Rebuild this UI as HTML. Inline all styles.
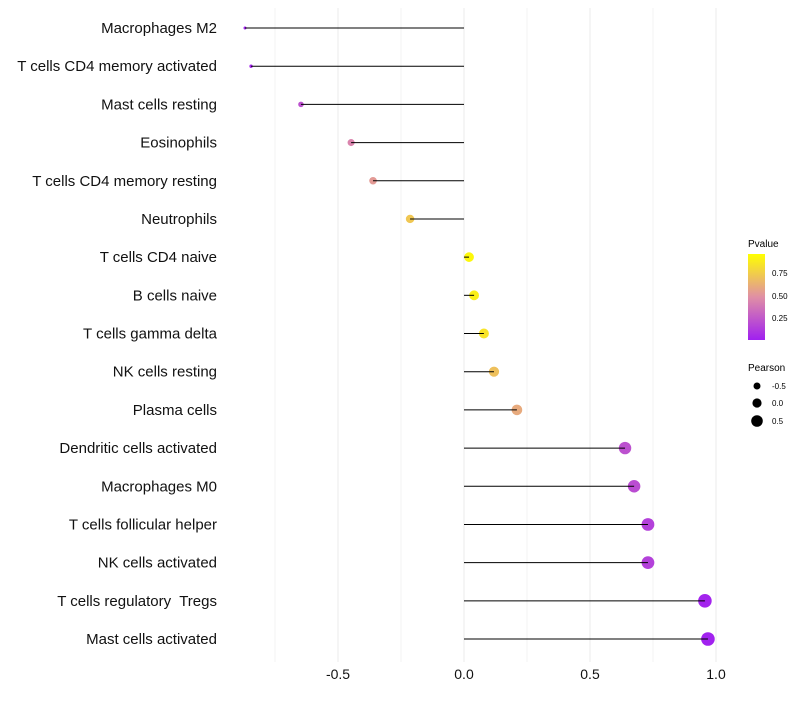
<!DOCTYPE html>
<html><head><meta charset="utf-8"><style>
body{margin:0;background:#fff;}
svg text{font-family:"Liberation Sans",sans-serif;white-space:pre;}
</style></head><body>
<svg id="chart" width="800" height="700" xmlns="http://www.w3.org/2000/svg">
<defs><linearGradient id="pg" x1="0" y1="1" x2="0" y2="0">
<stop offset="0" stop-color="#a020f0"/><stop offset="0.5" stop-color="#e08fa5"/><stop offset="1" stop-color="#ffff00"/>
</linearGradient></defs>
<g id="grid"></g><g id="points"></g><g id="stems"></g><g id="labels"></g>
<g>
<text x="748" y="247" font-size="10">Pvalue</text>
<rect x="748" y="254" width="17" height="86" fill="url(#pg)"/>
<text x="772" y="276" font-size="8">0.75</text>
<text x="772" y="299" font-size="8">0.50</text>
<text x="772" y="321" font-size="8">0.25</text>
</g>
<g>
<text x="748" y="371" font-size="10">Pearson</text>
<circle cx="757" cy="386" r="3.5"/>
<circle cx="757" cy="403" r="4.6"/>
<circle cx="757" cy="421" r="5.8"/>
<text x="772" y="389" font-size="8">-0.5</text>
<text x="772" y="406" font-size="8">0.0</text>
<text x="772" y="424" font-size="8">0.5</text>
</g>
</svg>
<script>
const categories=["Macrophages M2","T cells CD4 memory activated","Mast cells resting","Eosinophils","T cells CD4 memory resting","Neutrophils","T cells CD4 naive","B cells naive","T cells gamma delta","NK cells resting","Plasma cells","Dendritic cells activated","Macrophages M0","T cells follicular helper","NK cells activated","T cells regulatory  Tregs","Mast cells activated"];
const pearson=[-0.869,-0.845,-0.647,-0.448,-0.361,-0.214,0.02,0.04,0.079,0.119,0.21,0.639,0.675,0.73,0.73,0.956,0.968];
const pvalue=[0.01,0.02,0.22,0.45,0.55,0.75,0.97,0.93,0.88,0.72,0.62,0.22,0.2,0.15,0.15,0.02,0.01];
const xTicks=[-0.5,0,0.5,1.0];
const xTickLabels=["-0.5","0.0","0.5","1.0"];
const xMinor=[-0.75,-0.25,0.25,0.75];
const NS="http://www.w3.org/2000/svg";
const xs=v=>464+v*252;
const ys=i=>28+i*(611/16);
const rs=v=>Math.sqrt(Math.max(1.5,2.25+24*(v+0.869)));
function lerp(a,b,t){return a.map((c,k)=>Math.round(c+(b[k]-c)*t));}
function col(p){const c0=[160,32,240],c1=[224,143,165],c2=[255,255,0];
 const c=p<0.5?lerp(c0,c1,p/0.5):lerp(c1,c2,(p-0.5)/0.5);return `rgb(${c})`;}
function mk(tag,attrs,parent){const e=document.createElementNS(NS,tag);for(const k in attrs)e.setAttribute(k,attrs[k]);parent.appendChild(e);return e;}
const grid=document.getElementById('grid'),pts=document.getElementById('points'),stems=document.getElementById('stems'),labels=document.getElementById('labels');
xMinor.concat(xTicks).forEach(v=>{const l=mk('line',{x1:xs(v),x2:xs(v),y1:8,y2:662,stroke:'#ebebeb','stroke-width':xTicks.includes(v)?1:0.6},grid);

});
xTicks.forEach((v,i)=>{const t=mk('text',{x:xs(v),y:679,'font-size':14,'text-anchor':'middle',fill:'#111'},labels);t.textContent=xTickLabels[i];

});
categories.forEach((c,i)=>{
 const t=mk('text',{x:217,y:ys(i)+5,'font-size':15,'text-anchor':'end',fill:'#111'},labels);t.textContent=c;
 
 
 const p=mk('circle',{cx:xs(pearson[i]),cy:ys(i),r:rs(pearson[i]),fill:col(pvalue[i])},pts);
 
 
 const l=mk('line',{x1:xs(0),x2:xs(pearson[i]),y1:ys(i),y2:ys(i),stroke:'#000','stroke-width':1},stems);
 
 
});
</script>
</body></html>
